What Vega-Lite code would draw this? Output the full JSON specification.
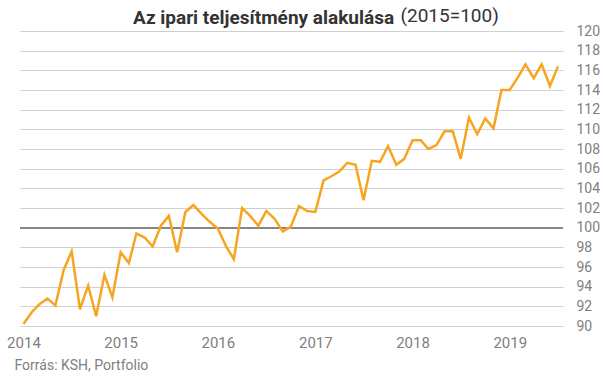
{
  "$schema": "https://vega.github.io/schema/vega-lite/v6.json",
  "width": 543,
  "height": 295,
  "autosize": {"type": "none"},
  "padding": {"left": 20, "top": 31, "right": 41, "bottom": 51},
  "background": "white",
  "config": {"view": {"stroke": null}, "font": "Roboto"},
  "title": {
    "text": "Az ipari teljesítmény alakulása",
    "fontSize": 19,
    "fontWeight": "bold",
    "color": "#333333",
    "anchor": "start",
    "frame": "group",
    "dx": 113,
    "dy": 37,
    "baseline": "alphabetic",
    "offset": 0
  },
  "data": {
    "values": [
      {"date": "2014-01-01T00:00:00", "value": 90.2},
      {"date": "2014-02-01T00:00:00", "value": 91.4},
      {"date": "2014-03-01T00:00:00", "value": 92.2},
      {"date": "2014-04-01T00:00:00", "value": 92.8},
      {"date": "2014-05-01T00:00:00", "value": 92.1},
      {"date": "2014-06-01T00:00:00", "value": 95.7},
      {"date": "2014-07-01T00:00:00", "value": 97.6},
      {"date": "2014-08-01T00:00:00", "value": 91.7},
      {"date": "2014-09-01T00:00:00", "value": 94.1},
      {"date": "2014-10-01T00:00:00", "value": 91.0},
      {"date": "2014-11-01T00:00:00", "value": 95.2},
      {"date": "2014-12-01T00:00:00", "value": 92.9},
      {"date": "2015-01-01T00:00:00", "value": 97.5},
      {"date": "2015-02-01T00:00:00", "value": 96.4},
      {"date": "2015-03-01T00:00:00", "value": 99.4},
      {"date": "2015-04-01T00:00:00", "value": 99.0},
      {"date": "2015-05-01T00:00:00", "value": 98.1},
      {"date": "2015-06-01T00:00:00", "value": 100.2},
      {"date": "2015-07-01T00:00:00", "value": 101.2},
      {"date": "2015-08-01T00:00:00", "value": 97.5},
      {"date": "2015-09-01T00:00:00", "value": 101.6},
      {"date": "2015-10-01T00:00:00", "value": 102.3},
      {"date": "2015-11-01T00:00:00", "value": 101.4},
      {"date": "2015-12-01T00:00:00", "value": 100.6},
      {"date": "2016-01-01T00:00:00", "value": 99.9},
      {"date": "2016-02-01T00:00:00", "value": 98.1},
      {"date": "2016-03-01T00:00:00", "value": 96.8},
      {"date": "2016-04-01T00:00:00", "value": 102.0},
      {"date": "2016-05-01T00:00:00", "value": 101.2},
      {"date": "2016-06-01T00:00:00", "value": 100.2},
      {"date": "2016-07-01T00:00:00", "value": 101.7},
      {"date": "2016-08-01T00:00:00", "value": 100.9},
      {"date": "2016-09-01T00:00:00", "value": 99.6},
      {"date": "2016-10-01T00:00:00", "value": 100.1},
      {"date": "2016-11-01T00:00:00", "value": 102.2},
      {"date": "2016-12-01T00:00:00", "value": 101.7},
      {"date": "2017-01-01T00:00:00", "value": 101.6},
      {"date": "2017-02-01T00:00:00", "value": 104.8},
      {"date": "2017-03-01T00:00:00", "value": 105.2},
      {"date": "2017-04-01T00:00:00", "value": 105.7},
      {"date": "2017-05-01T00:00:00", "value": 106.6},
      {"date": "2017-06-01T00:00:00", "value": 106.4},
      {"date": "2017-07-01T00:00:00", "value": 102.8},
      {"date": "2017-08-01T00:00:00", "value": 106.8},
      {"date": "2017-09-01T00:00:00", "value": 106.7},
      {"date": "2017-10-01T00:00:00", "value": 108.3},
      {"date": "2017-11-01T00:00:00", "value": 106.4},
      {"date": "2017-12-01T00:00:00", "value": 107.0},
      {"date": "2018-01-01T00:00:00", "value": 108.9},
      {"date": "2018-02-01T00:00:00", "value": 108.9},
      {"date": "2018-03-01T00:00:00", "value": 108.0},
      {"date": "2018-04-01T00:00:00", "value": 108.4},
      {"date": "2018-05-01T00:00:00", "value": 109.8},
      {"date": "2018-06-01T00:00:00", "value": 109.8},
      {"date": "2018-07-01T00:00:00", "value": 107.0},
      {"date": "2018-08-01T00:00:00", "value": 111.2},
      {"date": "2018-09-01T00:00:00", "value": 109.5},
      {"date": "2018-10-01T00:00:00", "value": 111.1},
      {"date": "2018-11-01T00:00:00", "value": 110.1},
      {"date": "2018-12-01T00:00:00", "value": 114.0},
      {"date": "2019-01-01T00:00:00", "value": 114.0},
      {"date": "2019-02-01T00:00:00", "value": 115.3},
      {"date": "2019-03-01T00:00:00", "value": 116.6},
      {"date": "2019-04-01T00:00:00", "value": 115.2},
      {"date": "2019-05-01T00:00:00", "value": 116.6},
      {"date": "2019-06-01T00:00:00", "value": 114.4},
      {"date": "2019-07-01T00:00:00", "value": 116.4}
    ]
  },
  "layer": [
    {
      "mark": {"type": "rule", "color": "#888888", "strokeWidth": 1},
      "encoding": {"y": {"datum": 100, "type": "quantitative"}}
    },
    {
      "mark": {"type": "line", "color": "#F7A520", "strokeWidth": 2.5, "strokeJoin": "miter"},
      "encoding": {
        "x": {
          "field": "date",
          "type": "temporal",
          "scale": {"domain": ["2013-12-19T00:00:00", "2019-07-20T00:00:00"]},
          "axis": {
            "format": "%Y",
            "tickCount": "year",
            "grid": false,
            "domain": false,
            "ticks": false,
            "labelFontSize": 15,
            "labelColor": "#808080",
            "labelPadding": 9,
            "labelAlign": "center",
            "title": "Forrás: KSH, Portfolio",
            "titleFontSize": 14,
            "titleFontWeight": "normal",
            "titleColor": "#808080",
            "titleAnchor": "start",
            "titleAlign": "left",
            "titleBaseline": "alphabetic",
            "titleX": -6,
            "titleY": 43
          }
        },
        "y": {
          "field": "value",
          "type": "quantitative",
          "scale": {"domain": [90, 120], "nice": false, "zero": false},
          "axis": {
            "orient": "right",
            "values": [90, 92, 94, 96, 98, 100, 102, 104, 106, 108, 110, 112, 114, 116, 118, 120],
            "tickCount": 20,
            "labelOverlap": false,
            "grid": true,
            "gridColor": "#d0d0d0",
            "gridWidth": 1,
            "domain": false,
            "ticks": false,
            "labelFontSize": 14,
            "labelColor": "#808080",
            "labelPadding": 13,
            "labelAlign": "left",
            "labelBaseline": "middle",
            "title": "(2015=100)",
            "titleAngle": 0,
            "titleFontSize": 19,
            "titleFontWeight": "normal",
            "titleColor": "#333333",
            "titleAlign": "left",
            "titleBaseline": "alphabetic",
            "titleX": -163,
            "titleY": -10
          }
        }
      }
    }
  ]
}
